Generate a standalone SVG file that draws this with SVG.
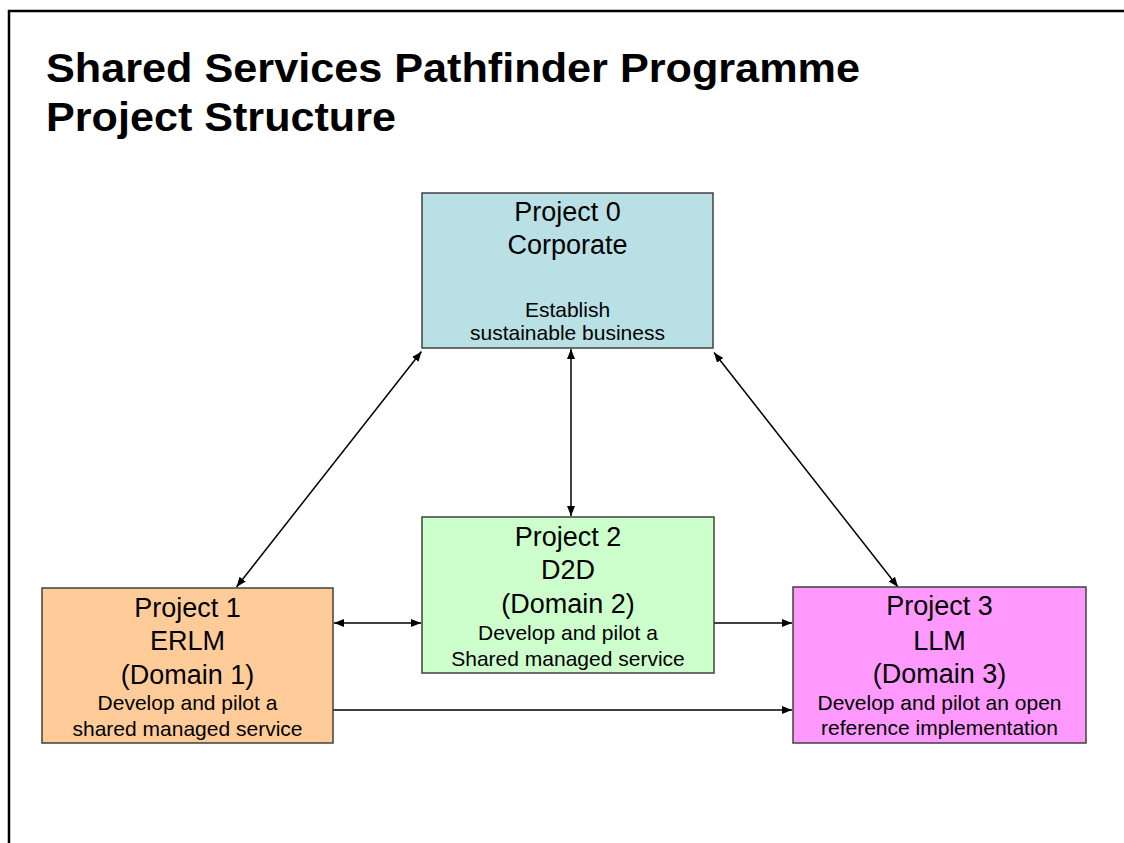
<svg xmlns="http://www.w3.org/2000/svg" width="1124" height="843" viewBox="0 0 1124 843">
<style>
.box{stroke:#404040;stroke-width:1.5}
.big{font-family:"Liberation Sans",Arial,sans-serif;font-size:27px;fill:#000;text-anchor:middle}
.small{font-family:"Liberation Sans",Arial,sans-serif;font-size:21px;fill:#000;text-anchor:middle}
.title{font-family:"Liberation Sans",Arial,sans-serif;font-size:40px;font-weight:bold;fill:#000}
.conn{stroke:#000;stroke-width:1.5;fill:none}
</style>
<defs>
<marker id="ah" viewBox="0 0 10 10" refX="10" refY="5" markerWidth="10" markerHeight="10" markerUnits="userSpaceOnUse" orient="auto-start-reverse">
<path d="M0,1 L10,5 L0,9 z" fill="#000"/>
</marker>
</defs>
<rect width="1124" height="843" fill="#fff"/>
<path d="M9,843 V11 H1124" fill="none" stroke="#000" stroke-width="2.5"/>
<g id="title">
<text class="title" x="46" y="82" textLength="814" lengthAdjust="spacingAndGlyphs">Shared Services Pathfinder Programme</text>
<text class="title" x="46" y="131" textLength="350" lengthAdjust="spacingAndGlyphs">Project Structure</text>
</g>
<g id="connectors">
<line class="conn" x1="571" y1="349" x2="571" y2="516" marker-start="url(#ah)" marker-end="url(#ah)"/>
<line class="conn" x1="421.5" y1="351.5" x2="236.5" y2="587" marker-start="url(#ah)" marker-end="url(#ah)"/>
<line class="conn" x1="714" y1="352.5" x2="898" y2="587" marker-start="url(#ah)" marker-end="url(#ah)"/>
<line class="conn" x1="334" y1="623" x2="421" y2="623" marker-start="url(#ah)" marker-end="url(#ah)"/>
<line class="conn" x1="714" y1="623" x2="792" y2="623" marker-end="url(#ah)"/>
<line class="conn" x1="333" y1="710" x2="792" y2="710" marker-end="url(#ah)"/>
</g>
<g id="project0">
<rect class="box" x="422" y="193" width="291" height="155" fill="#b9e0e4"/>
<text class="big" x="567.5" y="221">Project 0</text>
<text class="big" x="567.5" y="254">Corporate</text>
<text class="small" x="567.5" y="317">Establish</text>
<text class="small" x="567.5" y="340">sustainable business</text>
</g>
<g id="project1">
<rect class="box" x="42" y="588" width="291" height="155" fill="#ffcc99"/>
<text class="big" x="187.5" y="617">Project 1</text>
<text class="big" x="187.5" y="650">ERLM</text>
<text class="big" x="187.5" y="684">(Domain 1)</text>
<text class="small" x="187.5" y="710">Develop and pilot a</text>
<text class="small" x="187.5" y="736">shared managed service</text>
</g>
<g id="project2">
<rect class="box" x="422" y="517" width="292" height="156" fill="#ccffcc"/>
<text class="big" x="568" y="546">Project 2</text>
<text class="big" x="568" y="579">D2D</text>
<text class="big" x="568" y="613">(Domain 2)</text>
<text class="small" x="568" y="640">Develop and pilot a</text>
<text class="small" x="568" y="666">Shared managed service</text>
</g>
<g id="project3">
<rect class="box" x="793" y="587" width="293" height="156" fill="#ff99ff"/>
<text class="big" x="939.5" y="615">Project 3</text>
<text class="big" x="939.5" y="650">LLM</text>
<text class="big" x="939.5" y="683">(Domain 3)</text>
<text class="small" x="939.5" y="710">Develop and pilot an open</text>
<text class="small" x="939.5" y="735">reference implementation</text>
</g>
</svg>
